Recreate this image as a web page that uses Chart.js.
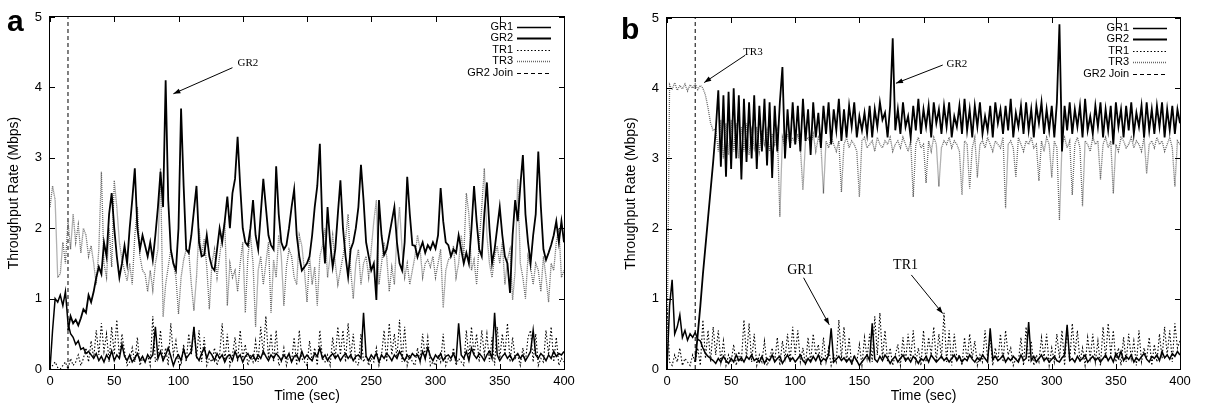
<!DOCTYPE html>
<html lang="en">
  <head>
    <meta charset="UTF-8" />
    <title>Throughput Rate vs Time</title>
    <script src="https://cdn.jsdelivr.net/npm/chart.js"></script>
    <style>
      body {
        margin: 0;
        background: #fff;
        font-family: "Liberation Sans", Arial, sans-serif;
      }
      #wrap {
        position: relative;
        width: 1205px;
        height: 409px;
      }
      canvas {
        position: absolute;
        top: 0;
      }
      .panel-letter {
        position: absolute;
        font: bold 30px "Liberation Sans", Arial, sans-serif;
        line-height: 30px;
      }
    </style>
  </head>
  <body>
    <div id="wrap">
      <canvas id="chartA" width="600" height="409" style="left: 0"></canvas>
      <canvas id="chartB" width="605" height="409" style="left: 600px"></canvas>
      <div class="panel-letter" style="left: 7px; top: 6px">a</div>
      <div class="panel-letter" style="left: 621px; top: 14px">b</div>
    </div>

    <script>
      // sampling step of every series (seconds)
      const STEP = 2;
      const X_TICKS = [0, 50, 100, 150, 200, 250, 300, 350, 400];
      const Y_TICKS = [0, 1, 2, 3, 4, 5];
      const LABELS = ["GR1", "GR2", "TR1", "TR3", "GR2 Join"];

      // ---- panel a ----
      const A_JOIN = 14;
      const A_GR1 = [
        0, 0.55, 1.0, 0.95, 1.05, 0.9, 1.1, 0.65, 0.5, 0.45,
        0.35, 0.4, 0.28, 0.3, 0.22, 0.25, 0.2, 0.15, 0.22, 0.12,
        0.18, 0.1, 0.2, 0.14, 0.26, 0.12, 0.2, 0.15, 0.35, 0.18,
        0.12, 0.2, 0.1, 0.15, 0.22, 0.12, 0.18, 0.1, 0.2, 0.15,
        0.2, 0.6, 0.15, 0.25, 0.12, 0.2, 0.3, 0.18, 0.05, 0.15,
        0.2, 0.12, 0.28, 0.15, 0.2, 0.25, 0.6, 0.18, 0.12, 0.22,
        0.3, 0.15, 0.25, 0.2, 0.12, 0.22, 0.15, 0.2, 0.1, 0.18,
        0.2, 0.12, 0.25, 0.15, 0.2, 0.1, 0.18, 0.22, 0.15, 0.2,
        0.12, 0.2, 0.15, 0.25, 0.18, 0.12, 0.2, 0.15, 0.22, 0.18,
        0.12, 0.2, 0.15, 0.22, 0.1, 0.18, 0.2, 0.12, 0.25, 0.15,
        0.2, 0.15, 0.12, 0.22, 0.18, 0.3, 0.15, 0.2, 0.12, 0.18,
        0.22, 0.15, 0.2, 0.12, 0.18, 0.22, 0.15, 0.2, 0.12, 0.18,
        0.2, 0.15, 0.8, 0.18, 0.12, 0.2, 0.15, 0.22, 0.1, 0.2,
        0.15, 0.22, 0.18, 0.12, 0.2, 0.15, 0.25, 0.18, 0.12, 0.2,
        0.15, 0.22, 0.18, 0.2, 0.12, 0.25, 0.15, 0.3, 0.18, 0.12,
        0.2, 0.15, 0.22, 0.12, 0.18, 0.2, 0.15, 0.22, 0.12, 0.65,
        0.2, 0.15, 0.25, 0.12, 0.3, 0.2, 0.15, 0.22, 0.18, 0.12,
        0.2, 0.25, 0.15, 0.8, 0.2, 0.12, 0.18, 0.22, 0.15, 0.2,
        0.12, 0.18, 0.22, 0.15, 0.2, 0.12, 0.18, 0.25, 0.55, 0.2,
        0.15, 0.22, 0.18, 0.12, 0.2, 0.15, 0.25, 0.18, 0.22, 0.2,
        0.25,
      ];
      const A_GR2 = [
        null, null, null, null, null, null, null, 0.55, 0.75, 0.65,
        0.7, 0.62, 0.72, 0.85, 0.8, 1.05, 0.95, 1.1, 1.3, 1.45,
        1.35, 1.8, 1.6, 2.2, 2.5, 2.0, 1.6, 1.3, 1.5, 1.75,
        1.5, 2.0, 2.4, 2.85, 2.0, 1.7, 1.9, 1.75, 1.6, 1.8,
        1.55, 1.9, 2.3, 2.8, 2.3, 4.1, 2.4, 1.7, 1.5, 1.4,
        2.0, 3.7, 2.6, 1.7, 1.65, 1.9, 2.25, 2.6, 1.8, 1.6,
        1.62, 1.9, 1.6, 1.45, 1.4, 1.7, 2.0, 1.8, 2.1, 2.45,
        2.0, 2.5, 2.7, 3.3, 2.6, 2.0, 1.8, 1.75, 2.0, 2.4,
        1.9, 1.7, 2.2, 2.7, 2.3, 1.9, 1.76, 1.7, 2.88, 2.2,
        1.8, 1.7, 1.76, 2.0, 2.3, 2.55, 1.9, 1.6, 1.4, 1.45,
        1.5, 1.6, 1.9, 2.3, 2.6, 3.2, 2.0, 1.5, 2.3, 1.8,
        1.45, 1.7, 2.2, 2.68, 2.0, 1.6, 1.31, 1.7, 1.8, 2.0,
        2.3, 2.9, 2.4, 1.8, 1.6, 1.4, 1.5, 0.98, 2.4, 1.9,
        1.62, 1.7, 1.9, 2.1, 2.3, 1.8, 1.5, 1.4, 1.8, 2.73,
        2.2, 1.76, 1.75, 1.59, 1.7, 1.8, 1.65, 1.76, 1.7, 1.8,
        1.71, 1.9, 2.57, 2.1, 1.8, 1.76, 1.6, 1.7, 1.65, 1.9,
        1.7, 1.5, 1.65, 1.5, 2.0, 2.6, 2.1, 1.7, 1.6, 2.2,
        2.65, 2.0, 1.5, 1.7, 2.0, 2.3, 1.9, 1.6, 1.5, 1.08,
        1.9, 2.4, 2.1, 2.6, 3.04, 2.2, 1.8, 1.5, 1.9, 2.2,
        3.09, 2.3, 1.7, 1.55, 1.65, 1.76, 1.9, 2.1, 1.8, 2.1,
        1.8,
      ];
      const A_TR1 = [
        0, 0.05, 0.1, 0.02, 0.0, 0.05, 0.1, 0.0, 0.15, 0.05,
        0.1, 0.2, 0.05, 0.15, 0.3, 0.1, 0.4, 0.15, 0.55, 0.2,
        0.65, 0.25, 0.5, 0.1, 0.6, 0.2, 0.7, 0.15, 0.5, 0.25,
        0.05, 0.1, 0.3, 0.1, 0.45, 0.05, 0.15, 0.1, 0.2, 0.05,
        0.75, 0.1, 0.2, 0.55, 0.1, 0.3, 0.05, 0.65, 0.2, 0.4,
        0.1, 0.05, 0.35, 0.1, 0.5, 0.2, 0.6, 0.15, 0.55, 0.1,
        0.45, 0.05, 0.15, 0.1, 0.3, 0.05, 0.2, 0.65, 0.1, 0.5,
        0.05, 0.2, 0.45, 0.1, 0.55, 0.15, 0.35, 0.05, 0.2, 0.1,
        0.4, 0.1, 0.6, 0.2, 0.75, 0.15, 0.5, 0.1, 0.55, 0.05,
        0.1, 0.3, 0.05, 0.2, 0.1, 0.45, 0.05, 0.55, 0.15, 0.1,
        0.05, 0.4, 0.1, 0.3, 0.05, 0.55, 0.15, 0.1, 0.2, 0.05,
        0.45, 0.15, 0.6, 0.2, 0.55, 0.1, 0.65, 0.15, 0.5, 0.1,
        0.05, 0.5, 0.1, 0.2, 0.05, 0.15, 0.1, 0.3, 0.05, 0.2,
        0.55, 0.1, 0.65, 0.2, 0.5, 0.15, 0.7, 0.1, 0.6, 0.05,
        0.2, 0.1, 0.05, 0.3, 0.1, 0.5, 0.15, 0.45, 0.05, 0.1,
        0.05, 0.2, 0.1, 0.5, 0.05, 0.15, 0.1, 0.3, 0.05, 0.15,
        0.1, 0.05, 0.55, 0.15, 0.6, 0.2, 0.5, 0.1, 0.55, 0.2,
        0.5, 0.1, 0.45, 0.05, 0.6, 0.15, 0.5, 0.2, 0.65, 0.1,
        0.45, 0.15, 0.2, 0.05, 0.3, 0.1, 0.45, 0.55, 0.1, 0.5,
        0.05, 0.15, 0.1, 0.55, 0.2, 0.6, 0.1, 0.45, 0.05, 0.15,
        0.1,
      ];
      const A_TR3 = [
        2.3, 2.6, 2.4, 1.3, 1.35, 1.8, 1.5, 2.1, 1.7, 2.2,
        1.8, 2.05, 1.65, 2.0, 1.9, 1.6, 1.75, 1.5, 1.2, 1.7,
        2.8, 1.5, 1.3, 2.0, 1.45, 2.68, 2.3, 1.8, 1.55, 1.4,
        1.25, 1.5, 1.2, 1.9, 2.3, 1.6, 1.4, 1.35, 1.1, 1.4,
        1.12, 1.5, 1.7, 2.85, 0.74, 1.2, 1.45, 1.7, 1.5, 1.3,
        0.78, 1.3, 1.55, 1.7, 1.66, 1.2, 0.83, 1.3, 2.0, 1.6,
        1.85, 1.45, 0.85, 1.5, 1.7, 1.3, 1.6, 1.9, 2.1, 0.9,
        1.5, 1.3, 1.4, 1.1, 1.5, 1.8, 0.8, 1.6, 1.9, 1.5,
        0.6, 1.4, 1.6, 1.2, 1.5, 1.8, 0.8, 1.55, 1.3, 1.9,
        1.6, 0.9, 1.45, 1.7, 1.6, 1.3, 1.2, 1.9, 1.75, 1.4,
        0.95, 1.6, 1.2, 1.45, 0.9, 1.6, 1.75, 2.0, 1.3, 1.6,
        1.9, 1.5, 1.2, 1.4, 1.6, 1.85, 2.2, 1.4, 1.0, 1.5,
        1.7, 1.2, 1.5, 1.6, 1.3, 1.7, 2.1, 2.4, 1.2, 1.5,
        1.8, 1.6, 1.1, 1.45, 1.2, 1.9, 2.3, 1.7, 1.3, 1.5,
        1.2, 1.4, 1.6, 1.9, 1.7, 1.3, 1.5, 1.55, 1.45, 1.6,
        1.3, 1.5, 1.7, 0.87, 1.4, 1.55, 1.6, 1.75, 1.3, 1.5,
        1.9, 1.6, 2.5, 2.2, 1.4, 1.55, 1.2, 1.8, 2.3, 2.85,
        1.9, 1.5, 1.3, 1.6, 1.75, 1.5, 1.8, 1.2, 1.55, 1.7,
        0.98, 1.4, 2.7, 1.5, 1.3, 1.0, 1.6, 1.45, 1.2, 1.5,
        1.4, 1.1, 1.6, 1.3, 0.95, 1.5, 1.4, 1.8, 2.0, 1.3,
        1.4,
      ];

      // ---- panel b ----
      const B_JOIN = 22;
      const B_GR1 = [
        0, 0.9, 1.27, 0.5, 0.6, 0.77, 0.45, 0.55, 0.41, 0.5,
        0.45, 0.52, 0.42, 0.4, 0.3, 0.22, 0.18, 0.15, 0.12, 0.08,
        0.15, 0.1, 0.18, 0.12, 0.08, 0.15, 0.1, 0.2, 0.12, 0.16,
        0.1, 0.18, 0.14, 0.2, 0.12, 0.15, 0.1, 0.18, 0.08, 0.15,
        0.12, 0.2, 0.1, 0.15, 0.18, 0.08, 0.14, 0.2, 0.12, 0.16,
        0.1, 0.15, 0.2, 0.12, 0.08, 0.15, 0.1, 0.18, 0.12, 0.2,
        0.1, 0.15, 0.12, 0.2, 0.58, 0.1, 0.14, 0.18, 0.12, 0.16,
        0.1, 0.15, 0.08, 0.18, 0.12, 0.05, 0.1, 0.15, 0.2, 0.12,
        0.65, 0.14, 0.1, 0.18, 0.12, 0.2, 0.15, 0.08, 0.14, 0.18,
        0.1, 0.15, 0.2, 0.12, 0.16, 0.1, 0.18, 0.14, 0.08, 0.15,
        0.12, 0.18, 0.1, 0.2, 0.15, 0.1, 0.14, 0.18, 0.12, 0.16,
        0.1, 0.15, 0.2, 0.12, 0.18, 0.1, 0.15, 0.12, 0.2, 0.14,
        0.1, 0.16, 0.12, 0.2, 0.15, 0.1, 0.58, 0.14, 0.18, 0.12,
        0.15, 0.2, 0.1, 0.16, 0.12, 0.18, 0.14, 0.1, 0.2, 0.12,
        0.15, 0.67, 0.12, 0.18, 0.1, 0.15, 0.2, 0.12, 0.16, 0.1,
        0.14, 0.18, 0.12, 0.1, 0.16, 0.2, 0.63, 0.12, 0.15, 0.1,
        0.18, 0.12, 0.15, 0.2, 0.1, 0.14, 0.18, 0.12, 0.16, 0.1,
        0.15, 0.2, 0.12, 0.18, 0.1, 0.22, 0.15, 0.25, 0.12, 0.18,
        0.14, 0.2, 0.1, 0.16, 0.12, 0.18, 0.22, 0.14, 0.1, 0.18,
        0.15, 0.2, 0.12, 0.25, 0.16, 0.2, 0.14, 0.22, 0.18, 0.25,
        0.2,
      ];
      const B_GR2 = [
        null, null, null, null, null, null, null, null, null, null,
        null, 0.1, 0.5, 0.9, 1.35, 1.75, 2.15, 2.55, 2.95, 3.4,
        3.97, 2.88, 3.9, 2.74, 3.95, 2.85, 4.0, 3.0, 3.9, 2.7,
        3.85, 2.95, 3.8, 3.0, 3.9, 2.85, 3.75, 3.1, 3.85, 2.9,
        3.8, 2.72, 3.75, 3.1, 3.8, 4.3, 3.0, 3.7, 3.15, 3.8,
        3.2, 3.75, 3.1, 3.85, 3.25, 3.7, 3.05, 3.8, 3.3, 3.65,
        3.15, 3.75, 3.35, 3.8, 3.2, 3.7, 3.4, 3.85, 3.25, 3.7,
        3.3, 3.75, 3.45, 3.8, 3.3, 3.6, 3.4, 3.65, 3.35, 3.75,
        3.3, 3.7, 3.45, 3.8, 3.55, 3.65, 3.3, 3.75, 4.71, 3.4,
        3.7, 3.35, 3.8, 3.45, 3.6, 3.3, 3.75, 3.4, 3.85, 3.35,
        3.7, 3.45, 3.75, 3.3, 3.8, 3.5, 3.7, 3.35, 3.75, 3.45,
        3.8, 3.3, 3.6, 3.45, 3.75, 3.35, 3.85, 3.4, 3.7, 3.3,
        3.75, 3.45, 3.8, 3.35, 3.6, 3.4, 3.75, 3.3, 3.8, 3.5,
        3.7, 3.35, 3.75, 3.4, 3.85, 3.3, 3.65, 3.45, 3.75, 3.35,
        3.8, 3.4, 3.7, 3.3, 3.75, 3.5, 3.8, 3.35, 3.7, 3.4,
        3.75, 3.3, 3.8, 4.91, 3.1, 3.75, 3.4, 3.8, 3.35, 3.7,
        3.45, 3.75, 3.3, 3.85, 3.4, 3.6, 3.35, 3.75, 3.45, 3.8,
        3.3, 3.7, 3.4, 3.75, 3.2, 3.8, 3.45, 3.7, 3.3, 3.75,
        3.4, 3.8, 3.35, 3.65, 3.45, 3.75, 3.3, 3.8, 3.4, 3.7,
        3.35, 3.75, 3.45, 3.8, 3.3, 3.7, 3.4, 3.75, 3.35, 3.7,
        3.5,
      ];
      const B_TR1 = [
        0.9, 0.1, 0.05, 0.2, 0.1, 0.3, 0.05, 0.15, 0.1, 0.05,
        0.2, 0.1, 0.3, 0.05, 0.7, 0.15, 0.55, 0.1, 0.6, 0.2,
        0.55, 0.1, 0.4, 0.05, 0.2, 0.1, 0.35, 0.05, 0.25, 0.1,
        0.7, 0.15, 0.65, 0.1, 0.5, 0.05, 0.2, 0.1, 0.4, 0.05,
        0.15, 0.3, 0.1, 0.45, 0.05, 0.4, 0.15, 0.5, 0.1, 0.6,
        0.2, 0.55, 0.1, 0.3, 0.05, 0.45, 0.1, 0.5, 0.2, 0.35,
        0.05, 0.45, 0.1, 0.3, 0.05, 0.2, 0.1, 0.7, 0.15, 0.6,
        0.1, 0.45, 0.05, 0.2, 0.1, 0.35, 0.05, 0.45, 0.15, 0.5,
        0.1, 0.75, 0.2, 0.8, 0.15, 0.55, 0.1, 0.3, 0.05, 0.2,
        0.35, 0.05, 0.45, 0.1, 0.5, 0.15, 0.55, 0.1, 0.3, 0.05,
        0.55, 0.1, 0.45, 0.2, 0.6, 0.1, 0.5, 0.15, 0.8, 0.1,
        0.55, 0.05, 0.5, 0.15, 0.2, 0.05, 0.45, 0.1, 0.5, 0.15,
        0.4, 0.05, 0.2, 0.1, 0.55, 0.15, 0.45, 0.05, 0.3, 0.1,
        0.5, 0.1, 0.55, 0.2, 0.3, 0.05, 0.15, 0.1, 0.45, 0.05,
        0.6, 0.1, 0.4, 0.05, 0.2, 0.1, 0.45, 0.15, 0.5, 0.05,
        0.3, 0.1, 0.5, 0.15, 0.55, 0.05, 0.6, 0.1, 0.65, 0.2,
        0.55, 0.1, 0.3, 0.05, 0.45, 0.15, 0.5, 0.1, 0.4, 0.05,
        0.6, 0.15, 0.65, 0.2, 0.55, 0.1, 0.3, 0.05, 0.45, 0.1,
        0.5, 0.15, 0.4, 0.05, 0.55, 0.1, 0.3, 0.15, 0.45, 0.05,
        0.35, 0.1, 0.5, 0.15, 0.6, 0.2, 0.55, 0.1, 0.65, 0.3,
        0.4,
      ];
      const B_TR3 = [
        0, 4.05, 3.98, 4.08, 3.97, 4.04, 3.99, 4.06, 3.96, 4.05,
        4.0, 4.06, 3.98, 4.04, 4.0, 3.9, 3.72, 3.5, 3.4, 3.42,
        3.1, 3.55, 3.0, 3.5, 3.05, 3.55, 3.1, 3.5, 3.0, 3.45,
        3.1, 3.5, 3.05, 3.4, 3.15, 3.45, 3.1, 3.4, 3.2, 3.4,
        3.1, 3.35, 3.2, 3.4, 2.17, 3.3, 3.15, 3.35, 3.2, 3.3,
        3.2, 3.35, 3.15, 2.55, 3.25, 3.3, 3.2, 3.35, 3.1, 3.3,
        3.2, 2.5, 3.25, 3.15, 3.3, 3.2, 3.1, 3.25, 2.52, 3.2,
        3.3, 3.15, 3.25, 3.2, 3.1, 2.45, 3.25, 3.3, 3.15, 3.2,
        3.25, 3.1, 3.3, 3.2, 3.15, 3.25, 3.2, 3.3, 3.1, 3.2,
        3.25, 3.15, 3.3, 3.2, 3.1, 3.25, 2.45, 3.2, 3.3, 3.15,
        3.2, 2.65, 3.25, 3.1, 3.3, 3.2, 2.6, 3.15, 3.25, 3.2,
        3.3, 3.15, 3.25, 3.2, 3.1, 2.48, 3.25, 3.2, 2.57, 3.15,
        3.3, 2.73, 3.2, 3.25, 3.15, 3.3, 3.2, 3.1, 3.25, 3.2,
        3.15, 3.3, 2.29, 3.2, 3.25, 3.15, 2.73, 3.3, 3.2, 3.1,
        3.25, 3.2, 3.3, 3.15, 3.2, 2.68, 3.25, 3.1, 3.3, 3.2,
        2.73, 3.25, 3.15, 2.12, 3.2, 3.3, 3.15, 3.25, 2.48, 3.2,
        3.3, 3.15, 2.32, 3.25, 3.2, 3.1, 3.3, 3.2, 3.25, 2.7,
        3.2, 3.3, 3.15, 3.25, 2.5, 3.2, 3.1, 3.3, 3.25, 3.15,
        3.2, 3.3, 3.15, 3.25, 3.2, 3.1, 3.3, 2.78, 3.2, 3.25,
        3.15, 3.3, 3.2, 3.25, 3.1, 3.2, 3.3, 3.15, 2.6, 3.25,
        3.2,
      ];

      // arrows + labels, in data units: [text, textX, textY, fontPx, fromX, fromY, toX, toY]
      const A_NOTES = [["GR2", 154, 4.35, 11, 142, 4.28, 96, 3.91]];
      const B_NOTES = [
        ["TR3", 67, 4.52, 11, 61, 4.47, 29, 4.08],
        ["GR2", 226, 4.35, 11, 215, 4.33, 178.5, 4.07],
        ["GR1", 104, 1.4, 14, 106.5, 1.3, 126.5, 0.63],
        ["TR1", 186, 1.47, 14, 190.5, 1.34, 215, 0.79],
      ];

      const SANS = '"Liberation Sans", Arial, sans-serif';
      const SERIF = '"Liberation Serif", "Times New Roman", serif';

      function toPoints(values) {
        return values.map((v, i) => ({ x: i * STEP, y: v }));
      }

      // gnuplot style frame with inward ticks on all four sides
      const framePlugin = {
        id: "frame",
        afterDatasetsDraw(chart) {
          const { ctx, chartArea: a, scales } = chart;
          ctx.save();
          ctx.strokeStyle = "#000";
          ctx.lineWidth = 1;
          ctx.beginPath();
          X_TICKS.forEach((t) => {
            const px = Math.round(scales.x.getPixelForValue(t)) + 0.5;
            ctx.moveTo(px, a.bottom);
            ctx.lineTo(px, a.bottom - 5);
            ctx.moveTo(px, a.top);
            ctx.lineTo(px, a.top + 5);
          });
          Y_TICKS.forEach((t) => {
            const py = Math.round(scales.y.getPixelForValue(t)) + 0.5;
            ctx.moveTo(a.left, py);
            ctx.lineTo(a.left + 5, py);
            ctx.moveTo(a.right, py);
            ctx.lineTo(a.right - 5, py);
          });
          ctx.stroke();
          ctx.strokeRect(a.left - 0.5, a.top - 0.5, a.width + 1, a.height + 1);
          ctx.restore();
        },
      };

      const notesPlugin = {
        id: "notes",
        afterDatasetsDraw(chart, args, opts) {
          const { ctx, scales } = chart;
          const X = (v) => scales.x.getPixelForValue(v);
          const Y = (v) => scales.y.getPixelForValue(v);
          ctx.save();
          ctx.fillStyle = "#000";
          ctx.strokeStyle = "#000";
          ctx.lineWidth = 1;
          (opts.items || []).forEach(([text, tx, ty, size, fx, fy, ex, ey]) => {
            ctx.font = size + "px " + SERIF;
            ctx.textAlign = "center";
            ctx.textBaseline = "middle";
            ctx.fillText(text, X(tx), Y(ty));
            const x1 = X(fx), y1 = Y(fy), x2 = X(ex), y2 = Y(ey);
            const ang = Math.atan2(y2 - y1, x2 - x1);
            ctx.beginPath();
            ctx.moveTo(x1, y1);
            ctx.lineTo(x2, y2);
            ctx.stroke();
            ctx.beginPath();
            ctx.moveTo(x2, y2);
            ctx.lineTo(x2 - 7 * Math.cos(ang) + 2.5 * Math.sin(ang), y2 - 7 * Math.sin(ang) - 2.5 * Math.cos(ang));
            ctx.lineTo(x2 - 7 * Math.cos(ang) - 2.5 * Math.sin(ang), y2 - 7 * Math.sin(ang) + 2.5 * Math.cos(ang));
            ctx.closePath();
            ctx.fill();
          });
          ctx.restore();
        },
      };

      // key in the top right corner, labels right aligned, samples after them
      const keyPlugin = {
        id: "key",
        afterDraw(chart) {
          const { ctx, chartArea: a } = chart;
          ctx.save();
          ctx.font = "11px " + SANS;
          ctx.textAlign = "right";
          ctx.textBaseline = "middle";
          chart.data.datasets.forEach((ds, i) => {
            const y = a.top + 9.5 + i * 11.5;
            ctx.fillStyle = "#000";
            ctx.fillText(ds.label, a.right - 51, y);
            ctx.strokeStyle = ds.borderColor;
            ctx.lineWidth = ds.borderWidth;
            ctx.setLineDash(ds.borderDash || []);
            ctx.beginPath();
            ctx.moveTo(a.right - 47, Math.round(y) + 0.5);
            ctx.lineTo(a.right - 13, Math.round(y) + 0.5);
            ctx.stroke();
          });
          ctx.restore();
        },
      };

      function makeChart(id, series, join, notes, padLeft, padRight, padTop) {
        const datasets = [
          { label: LABELS[0], data: toPoints(series[0]), borderColor: "#000", borderWidth: 1.5 },
          { label: LABELS[1], data: toPoints(series[1]), borderColor: "#000", borderWidth: 1.8 },
          { label: LABELS[2], data: toPoints(series[2]), borderColor: "#000", borderWidth: 1.1, borderDash: [1.5, 2] },
          { label: LABELS[3], data: toPoints(series[3]), borderColor: "#666", borderWidth: 1.3, borderDash: [1, 1] },
          { label: LABELS[4], data: [{ x: join, y: 0 }, { x: join, y: 5 }], borderColor: "#000", borderWidth: 1, borderDash: [4, 3] },
        ].map((d) => Object.assign({ pointRadius: 0, tension: 0, fill: false }, d));

        return new Chart(document.getElementById(id), {
          type: "line",
          data: { datasets },
          plugins: [framePlugin, notesPlugin, keyPlugin],
          options: {
            responsive: false,
            animation: false,
            devicePixelRatio: 1,
            layout: { padding: { left: padLeft, right: padRight, top: padTop, bottom: 0 } },
            plugins: {
              legend: { display: false },
              tooltip: { enabled: false },
              notes: { items: notes },
            },
            scales: {
              x: {
                type: "linear",
                min: 0,
                max: 400,
                grid: { display: false, drawTicks: false },
                border: { display: false },
                afterBuildTicks: (s) => { s.ticks = X_TICKS.map((v) => ({ value: v })); },
                afterFit: (s) => { s.height = 40; },
                ticks: { color: "#000", padding: 5, font: { family: SANS, size: 13 }, maxRotation: 0 },
                title: {
                  display: true,
                  text: "Time (sec)",
                  color: "#000",
                  font: { family: SANS, size: 14 },
                  padding: { top: 0, bottom: 4 },
                },
              },
              y: {
                min: 0,
                max: 5,
                grid: { display: false, drawTicks: false },
                border: { display: false },
                afterBuildTicks: (s) => { s.ticks = Y_TICKS.map((v) => ({ value: v })); },
                afterFit: (s) => { s.width = 50; },
                ticks: { color: "#000", padding: 8, font: { family: SANS, size: 13 } },
                title: {
                  display: true,
                  text: "Throughput Rate (Mbps)",
                  color: "#000",
                  font: { family: SANS, size: 14 },
                  padding: { top: 6, bottom: 0 },
                },
              },
            },
          },
        });
      }

      makeChart("chartA", [A_GR1, A_GR2, A_TR1, A_TR3], A_JOIN, A_NOTES, 0, 36, 17);
      makeChart("chartB", [B_GR1, B_GR2, B_TR1, B_TR3], B_JOIN, B_NOTES, 17, 25, 18);
    </script>
  </body>
</html>
